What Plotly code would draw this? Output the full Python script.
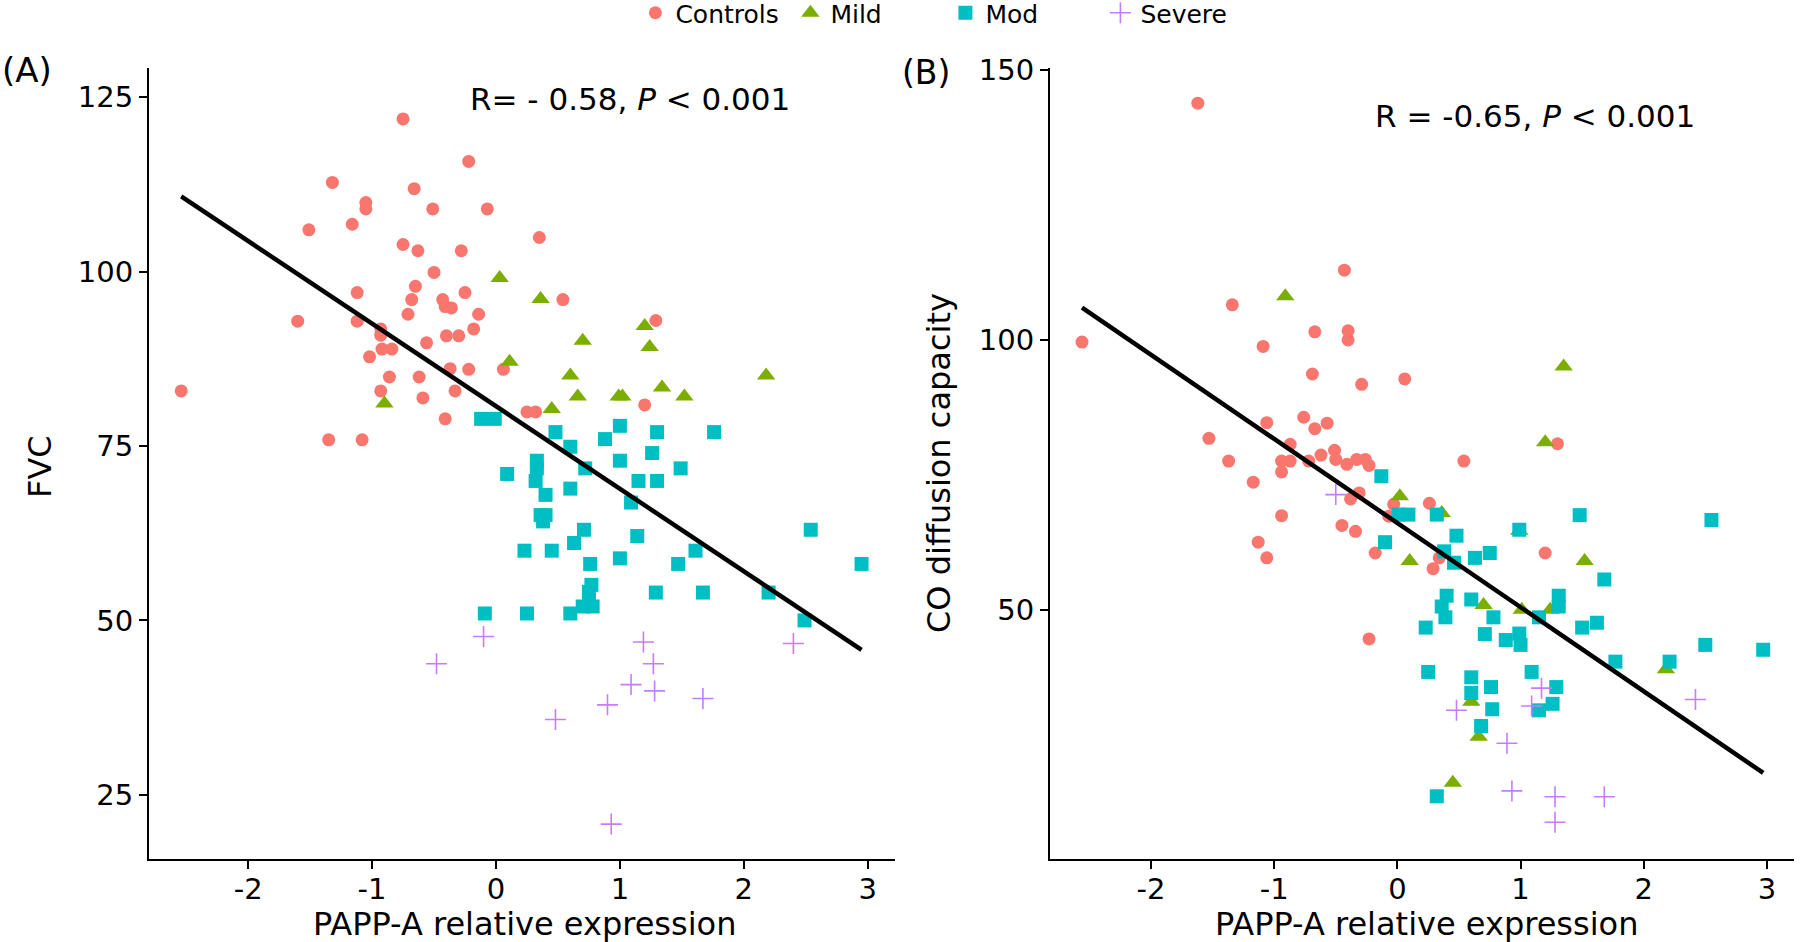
import numpy as np
import plotly.graph_objects as go

# ---------------- Panel A: FVC ----------------
fvc_controls_x = [-0.75, -0.22, -1.32, -0.66, -1.05, -1.05, -0.51, -0.07, -1.51, -1.16, 0.35, -0.75, -0.63, -0.28,
                  -0.50, -1.12, -0.65, -0.25, 0.54, -0.68, -0.43, -0.41, -0.36, -0.71, -0.14, -1.60, -1.12, -0.18,
                  -0.93, -0.93, -0.40, -0.30, -0.56, -0.92, -0.84, -1.02, -0.37, -0.22, 0.06, -0.86, -0.62, -2.54,
                  -0.93, -0.33, -0.59, 0.25, 0.32, -0.41, -0.02, -1.35, -1.08, 1.29, 1.20]
fvc_controls_y = [121.9, 115.8, 112.8, 111.9, 109.9, 109.0, 109.0, 109.0, 106.0, 106.8, 104.9, 103.9, 103.0, 103.0,
                  99.9, 97.0, 97.9, 97.0, 96.0, 96.0, 96.0, 95.0, 94.8, 93.9, 93.9, 92.9, 92.9, 91.8,
                  91.8, 90.9, 90.8, 90.8, 89.8, 88.9, 88.9, 87.8, 86.1, 86.0, 86.0, 84.9, 84.9, 82.9,
                  82.9, 82.9, 81.9, 79.9, 79.9, 78.9, 78.9, 75.9, 75.9, 93.0, 80.9]

fvc_mild_x = [0.03, 0.36, 1.20, 0.70, 1.24, 0.11, 2.18, 0.60, 1.34, 0.66, 0.99, 1.02, 1.52, 0.45, -0.90]
fvc_mild_y = [99.1, 96.1, 92.2, 90.1, 89.2, 87.1, 85.1, 85.1, 83.4, 82.1, 82.1, 82.1, 82.1, 80.3, 81.1]

fvc_mod_x = [-0.12, -0.01, 0.48, 1.00, 1.30, 1.76, 0.88, 0.60, 0.33, 0.33, 1.00, 1.26, 0.72, 1.49, 0.09, 0.32,
             1.15, 1.30, 0.60, 0.40, 1.09, 0.36, 0.40, 0.38, 0.71, 1.14, 2.54, 0.63, 0.23, 0.45, 1.61, 1.00,
             0.76, 1.47, 2.95, 0.77, 0.75, 0.75, 0.70, 0.78, 1.29, 1.67, 2.20, -0.09, 0.25, 0.60, 2.49]
fvc_mod_y = [78.9, 78.9, 77.0, 77.9, 77.0, 77.0, 76.0, 74.9, 72.9, 71.8, 72.9, 74.0, 71.8, 71.8, 71.0, 70.0,
             70.0, 70.0, 68.9, 68.0, 66.9, 65.1, 65.1, 64.2, 63.0, 62.1, 63.0, 61.1, 60.0, 60.0, 60.0, 58.9,
             58.1, 58.1, 58.1, 55.1, 54.1, 52.9, 52.0, 52.0, 54.0, 54.0, 54.0, 51.0, 51.0, 51.0, 50.0]

fvc_severe_x = [-0.10, -0.48, 1.19, 1.27, 1.09, 1.28, 1.67, 0.90, 0.48, 2.40, 0.93]
fvc_severe_y = [47.7, 43.8, 46.9, 43.8, 40.8, 39.9, 38.8, 37.9, 35.8, 46.7, 20.8]

# ---------------- Panel B: CO diffusion capacity ----------------
dlco_controls_x = [-1.62, -2.56, -1.34, -0.43, -0.67, -0.40, -0.40, -1.09, -0.69, -0.29, 0.06, -0.76, -1.06, -0.57,
                   -0.67, -1.53, -0.87, 1.30, -1.37, -0.94, -0.87, -0.94, -0.72, -0.62, -0.51, -0.50, -0.41, -0.33,
                   -0.26, -0.23, 0.54, -1.17, -0.94, -0.38, -0.31, -0.03, 0.26, -0.45, -0.34, -0.07, -1.13, -1.06,
                   -0.18, 0.34, 0.29, 1.20, -0.23]
dlco_controls_y = [143.8, 99.6, 106.5, 112.9, 101.5, 101.7, 100.0, 98.8, 93.7, 91.8, 92.8, 85.7, 84.7, 84.6,
                   83.6, 81.8, 80.7, 80.8, 77.6, 77.6, 77.6, 75.6, 77.6, 78.7, 79.6, 77.9, 77.0, 77.9,
                   77.9, 76.8, 77.6, 73.7, 67.5, 70.6, 71.7, 69.6, 69.8, 65.7, 64.6, 67.4, 62.6, 59.7,
                   60.6, 59.7, 57.7, 60.6, 44.7]

dlco_mild_x = [-0.91, 1.35, 1.20, 0.02, 0.36, 0.99, 0.10, 1.52, 0.70, 1.01, 1.24, 2.18, 0.60, 0.66, 0.45]
dlco_mild_y = [108.1, 95.1, 81.1, 71.1, 68.0, 64.7, 59.1, 59.1, 51.0, 50.1, 50.1, 39.1, 33.1, 26.6, 18.1]

dlco_mod_x = [-0.13, 0.01, 0.09, 0.32, 1.48, 2.55, 0.99, 0.48, -0.10, 0.38, 0.63, 0.75, 0.46, 1.68, 0.40,
              0.60, 1.31, 1.31, 0.36, 0.39, 0.78, 1.15, 1.50, 1.62, 0.23, 0.71, 0.88, 0.99, 1.00, 2.50,
              2.97, 1.77, 2.21, 0.25, 1.09, 0.60, 0.60, 0.76, 1.29, 0.77, 1.26, 1.15, 0.68, 0.32]
dlco_mod_y = [74.8, 67.7, 67.7, 67.7, 67.6, 66.7, 64.9, 63.8, 62.6, 60.9, 59.7, 60.6, 58.8, 55.7, 52.7,
              52.0, 52.7, 50.7, 50.7, 48.7, 48.7, 48.7, 46.8, 47.7, 46.8, 45.6, 44.5, 45.7, 43.6, 43.6,
              42.7, 40.5, 40.5, 38.6, 38.6, 37.6, 34.7, 35.8, 35.8, 31.7, 32.7, 31.5, 28.6, 15.6]

dlco_severe_x = [-0.50, 1.17, 1.09, 0.48, 2.42, 0.89, 0.93, 1.28, 1.68, 1.28]
dlco_severe_y = [71.4, 35.6, 32.3, 31.5, 33.5, 25.4, 16.6, 15.5, 15.5, 10.8]

group_names = ["Controls", "Mild", "Mod", "Severe"]
group_colors = ["#F8766D", "#7CAE00", "#00BFC4", "#C77CFF"]
group_symbols = ["circle", "triangle-up", "square", "cross-thin-open"]
group_sizes = [13, 16, 14, 15]

x_ticks = [-2, -1, 0, 1, 2, 3]
x_ticklabels = ["-2", "-1", "0", "1", "2", "3"]
fvc_ticks = [25, 50, 75, 100, 125]
dlco_ticks = [50, 100, 150]

FONT = "DejaVu Sans"

panels = [
    dict(xs=[fvc_controls_x, fvc_mild_x, fvc_mod_x, fvc_severe_x],
         ys=[fvc_controls_y, fvc_mild_y, fvc_mod_y, fvc_severe_y], xa="x", ya="y"),
    dict(xs=[dlco_controls_x, dlco_mild_x, dlco_mod_x, dlco_severe_x],
         ys=[dlco_controls_y, dlco_mild_y, dlco_mod_y, dlco_severe_y], xa="x2", ya="y2"),
]

fig = go.Figure()
for pi, p in enumerate(panels):
    for gi in range(4):
        sym = group_symbols[gi]
        marker = dict(color=group_colors[gi], symbol=sym, size=group_sizes[gi])
        if sym.endswith("open"):
            marker["line"] = dict(color=group_colors[gi], width=1.6)
        else:
            marker["line"] = dict(width=0)
        fig.add_trace(go.Scatter(
            x=p["xs"][gi], y=p["ys"][gi], mode="markers", name=group_names[gi],
            marker=marker, xaxis=p["xa"], yaxis=p["ya"],
            showlegend=(pi == 0), legendgroup=group_names[gi]))
    # linear regression line over data range
    allx = np.concatenate([np.array(v, float) for v in p["xs"]])
    ally = np.concatenate([np.array(v, float) for v in p["ys"]])
    slope, intercept = np.polyfit(allx, ally, 1)
    lx = np.array([allx.min(), allx.max()])
    fig.add_trace(go.Scatter(x=lx, y=slope * lx + intercept, mode="lines",
                             line=dict(color="black", width=4.5), showlegend=False,
                             xaxis=p["xa"], yaxis=p["ya"], hoverinfo="skip"))

axis_common = dict(showline=True, linecolor="black", linewidth=2, ticks="outside", ticklen=8,
                   tickwidth=2, tickcolor="black", showgrid=False, zeroline=False,
                   tickfont=dict(family=FONT, size=29, color="black"), automargin=False)

ydom = [1 - 859 / 942, 1 - 68 / 942]
fig.update_layout(
    width=1800, height=942,
    margin=dict(l=0, r=0, t=0, b=0),
    paper_bgcolor="white", plot_bgcolor="white",
    xaxis=dict(domain=[149 / 1800, 895 / 1800], range=[-2.80, 3.22], tickvals=x_ticks,
               ticktext=x_ticklabels, anchor="y", ticklabelstandoff=-5, **axis_common),
    yaxis=dict(domain=ydom, range=[15.8, 129.2], tickvals=fvc_ticks, anchor="x", **axis_common),
    xaxis2=dict(domain=[1050 / 1800, 1794 / 1800], range=[-2.82, 3.22], tickvals=x_ticks,
                ticktext=x_ticklabels, anchor="y2", ticklabelstandoff=-5, **axis_common),
    yaxis2=dict(domain=ydom, range=[4.0, 150.3], tickvals=dlco_ticks, anchor="x2", **axis_common),
    legend=dict(orientation="h", x=0.353, xanchor="left", y=1.0, yanchor="top",
                font=dict(family=FONT, size=25, color="black"), entrywidth=110,
                bgcolor="rgba(0,0,0,0)"),
    showlegend=True,
)

ann = []
def text(t, x, y, size, **kw):
    d = dict(text=t, x=x, y=y, xref="paper", yref="paper", showarrow=False,
             font=dict(family=FONT, size=size, color="black"))
    d.update(kw)
    ann.append(d)

text("PAPP-A relative expression", 524 / 1800, 1 - 924 / 942, 32, xanchor="center", yanchor="middle")
text("PAPP-A relative expression", 1426 / 1800, 1 - 924 / 942, 32, xanchor="center", yanchor="middle")
text("FVC", 40 / 1800, 1 - 467 / 942, 32, xanchor="center", yanchor="middle", textangle=-90)
text("CO diffusion capacity", 939 / 1800, 1 - 463 / 942, 32, xanchor="center", yanchor="middle", textangle=-90)
text("(A)", 0 / 1800, 1 - 70 / 942, 34, xanchor="left", yanchor="middle")
text("(B)", 900 / 1800, 1 - 73 / 942, 33, xanchor="left", yanchor="middle")
text("R= - 0.58, <i>P</i> < 0.001", 630 / 1800, 1 - 99 / 942, 31, xanchor="center", yanchor="middle")
text("R = -0.65, <i>P</i> < 0.001", 1535 / 1800, 1 - 116 / 942, 31, xanchor="center", yanchor="middle")
fig.update_layout(annotations=ann)

post = """
document.body.style.margin='0';
document.body.style.overflow='hidden';
var lg = document.querySelector('g.legend');
if (lg) {
  var t = lg.getAttribute('transform') || '';
  var m = t.match(/translate\\(([-\\d.]+)[ ,]+([-\\d.]+)\\)/);
  if (m) { lg.setAttribute('transform', 'translate(' + m[1] + ',' + (parseFloat(m[2]) - 10) + ')'); }
}
"""
fig.write_html("out.html", config={"displayModeBar": False}, post_script=post)
